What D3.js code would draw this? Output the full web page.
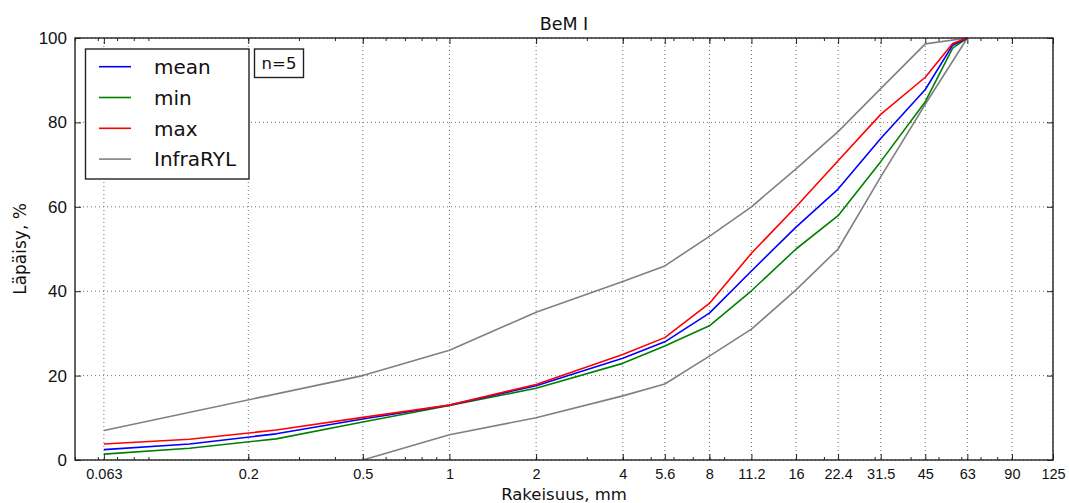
<!DOCTYPE html>
<html>
<head>
<meta charset="utf-8">
<script src="https://cdn.jsdelivr.net/npm/d3@7/dist/d3.min.js"></script>
<style>
  html, body { margin: 0; padding: 0; background: #fff; }
  svg { display: block; font-family: "DejaVu Sans", sans-serif; }
</style>
</head>
<body>
<svg id="chart" width="1069" height="503"></svg>
<script>
// Sieve sizes (mm) for the measured samples
const sieves = [0.063, 0.125, 0.25, 0.5, 1, 2, 4, 5.6, 8, 11.2, 16, 22.4, 31.5, 45, 56, 63];
const meanPass = [2.45, 3.8, 6.2, 9.7, 13, 17.6, 24.1, 28.0, 34.8, 44.8, 55.2, 64.2, 76.2, 87.8, 98.3, 100];
const minPass  = [1.4, 2.8, 5.0, 9.0, 12.9, 17.0, 22.9, 27.0, 31.8, 40.1, 50.0, 57.9, 70.7, 84.9, 97.6, 100];
const maxPass  = [3.8, 4.9, 7.1, 10.1, 13, 17.9, 25.0, 29.0, 37.1, 49.0, 60.0, 70.9, 81.9, 90.7, 98.7, 100];

// InfraRYL grading envelope
const upperSieves = [0.063, 0.5, 1, 2, 4, 5.6, 8, 11.2, 16, 22.4, 31.5, 45, 63];
const upperPass   = [7, 20, 26, 35, 42.3, 46, 53, 60, 69, 77.8, 88, 98.6, 100];
const lowerSieves = [0.5, 1, 2, 4, 5.6, 8, 11.2, 16, 22.4, 31.5, 45, 63];
const lowerPass   = [0, 6, 10, 15.2, 18, 24.6, 31, 40.3, 50, 67.1, 84.3, 100];

// Axis ticks
const xTicks = [0.063, 0.2, 0.5, 1, 2, 4, 5.6, 8, 11.2, 16, 22.4, 31.5, 45, 63, 90, 125];
const yTicks = [0, 20, 40, 60, 80, 100];

const svg = d3.select("#chart");
const m = { left: 75, right: 1053, top: 38, bottom: 460 };

const x = d3.scaleLog().domain([0.05, 125]).range([m.left, m.right]);
const y = d3.scaleLinear().domain([0, 100]).range([m.bottom, m.top]);

// Minor log ticks (2..9 per decade)
const minorTicks = [];
for (let d = -2; d <= 2; d++) {
  for (let k = 2; k <= 9; k++) {
    const v = k * Math.pow(10, d);
    if (v >= 0.05 && v <= 125) minorTicks.push(+v.toPrecision(3));
  }
}

// Grid
const grid = svg.append("g").attr("stroke", "#444").attr("stroke-width", 1)
  .attr("stroke-dasharray", "1,3").attr("opacity", 0.75);
grid.selectAll("line.gx").data(xTicks).join("line")
  .attr("x1", d => x(d)).attr("x2", d => x(d))
  .attr("y1", m.top).attr("y2", m.bottom);
grid.selectAll("line.gy").data(yTicks).join("line")
  .attr("y1", d => y(d)).attr("y2", d => y(d))
  .attr("x1", m.left).attr("x2", m.right);

// Axes (ticks point inward)
const tickStyle = g => {
  g.select(".domain").remove();
  g.selectAll(".tick line").attr("stroke", "#222").attr("stroke-width", 1);
  g.selectAll(".tick text").attr("fill", "#111");
};

svg.append("g").attr("transform", `translate(0,${m.bottom})`)
  .call(d3.axisBottom(x).tickValues(xTicks).tickFormat(d => String(d)).tickSize(-6).tickPadding(9))
  .call(tickStyle).selectAll("text").attr("font-size", 14.5);
svg.append("g").attr("transform", `translate(0,${m.bottom})`)
  .call(d3.axisBottom(x).tickValues(minorTicks).tickFormat("").tickSize(-3))
  .call(tickStyle);
svg.append("g").attr("transform", `translate(0,${m.top})`)
  .call(d3.axisTop(x).tickValues(xTicks).tickFormat("").tickSize(-6))
  .call(tickStyle);
svg.append("g").attr("transform", `translate(0,${m.top})`)
  .call(d3.axisTop(x).tickValues(minorTicks).tickFormat("").tickSize(-3))
  .call(tickStyle);
svg.append("g").attr("transform", `translate(${m.left},0)`)
  .call(d3.axisLeft(y).tickValues(yTicks).tickSize(-6).tickPadding(8))
  .call(tickStyle).selectAll("text").attr("font-size", 17);
svg.append("g").attr("transform", `translate(${m.right},0)`)
  .call(d3.axisRight(y).tickValues(yTicks).tickFormat("").tickSize(-6))
  .call(tickStyle);

// Series lines
const line = d3.line().x(d => x(d[0])).y(d => y(d[1]));
const zip = (xs, ys) => xs.map((v, i) => [v, ys[i]]);
const series = [
  { name: "InfraRYL", pts: zip(upperSieves, upperPass), color: "#808080" },
  { name: "InfraRYL", pts: zip(lowerSieves, lowerPass), color: "#808080" },
  { name: "min", pts: zip(sieves, minPass), color: "#008000" },
  { name: "mean", pts: zip(sieves, meanPass), color: "#0000ff" },
  { name: "max", pts: zip(sieves, maxPass), color: "#ff0000" }
];
svg.append("clipPath").attr("id", "plot-clip").append("rect")
  .attr("x", m.left).attr("y", m.top - 2).attr("width", m.right - m.left).attr("height", m.bottom - m.top + 2);
svg.append("g").attr("clip-path", "url(#plot-clip)")
  .selectAll("path").data(series).join("path")
  .attr("d", d => line(d.pts)).attr("fill", "none")
  .attr("stroke", d => d.color).attr("stroke-width", 1.6).attr("stroke-linejoin", "round");

// Plot frame
svg.append("rect").attr("x", m.left).attr("y", m.top)
  .attr("width", m.right - m.left).attr("height", m.bottom - m.top)
  .attr("fill", "none").attr("stroke", "#222").attr("stroke-width", 1.4);

// Title and axis labels
svg.append("text").attr("x", (m.left + m.right) / 2).attr("y", 30)
  .attr("text-anchor", "middle").attr("font-size", 17.5).attr("fill", "#111").text("BeM I");
svg.append("text").attr("x", (m.left + m.right) / 2).attr("y", 500)
  .attr("text-anchor", "middle").attr("font-size", 16.5).attr("fill", "#111").text("Rakeisuus, mm");
svg.append("text").attr("transform", `translate(26,${(m.top + m.bottom) / 2}) rotate(-90)`)
  .attr("text-anchor", "middle").attr("font-size", 17).attr("fill", "#111").text("Läpäisy, %");

// Legend
const legendItems = [
  { name: "mean", color: "#0000ff" },
  { name: "min", color: "#008000" },
  { name: "max", color: "#ff0000" },
  { name: "InfraRYL", color: "#808080" }
];
const lg = svg.append("g");
lg.append("rect").attr("x", 85.5).attr("y", 49).attr("width", 163.5).attr("height", 130)
  .attr("fill", "#fff").attr("stroke", "#222").attr("stroke-width", 1.4);
const rows = lg.selectAll("g.row").data(legendItems).join("g")
  .attr("transform", (d, i) => `translate(0,${66.7 + i * 30.8})`);
rows.append("line").attr("x1", 99).attr("x2", 131).attr("y1", 0).attr("y2", 0)
  .attr("stroke", d => d.color).attr("stroke-width", 1.6);
rows.append("text").attr("x", 154).attr("y", 0).attr("dy", "0.36em")
  .attr("font-size", 20).attr("fill", "#111").text(d => d.name);

// Sample count box
const nb = svg.append("g");
nb.append("rect").attr("x", 254.5).attr("y", 49).attr("width", 49).attr("height", 28.5)
  .attr("fill", "#fff").attr("stroke", "#222").attr("stroke-width", 1.4);
nb.append("text").attr("x", 279).attr("y", 63.5).attr("dy", "0.36em").attr("text-anchor", "middle")
  .attr("font-size", 16.5).attr("fill", "#111").text("n=5");
</script>
</body>
</html>
